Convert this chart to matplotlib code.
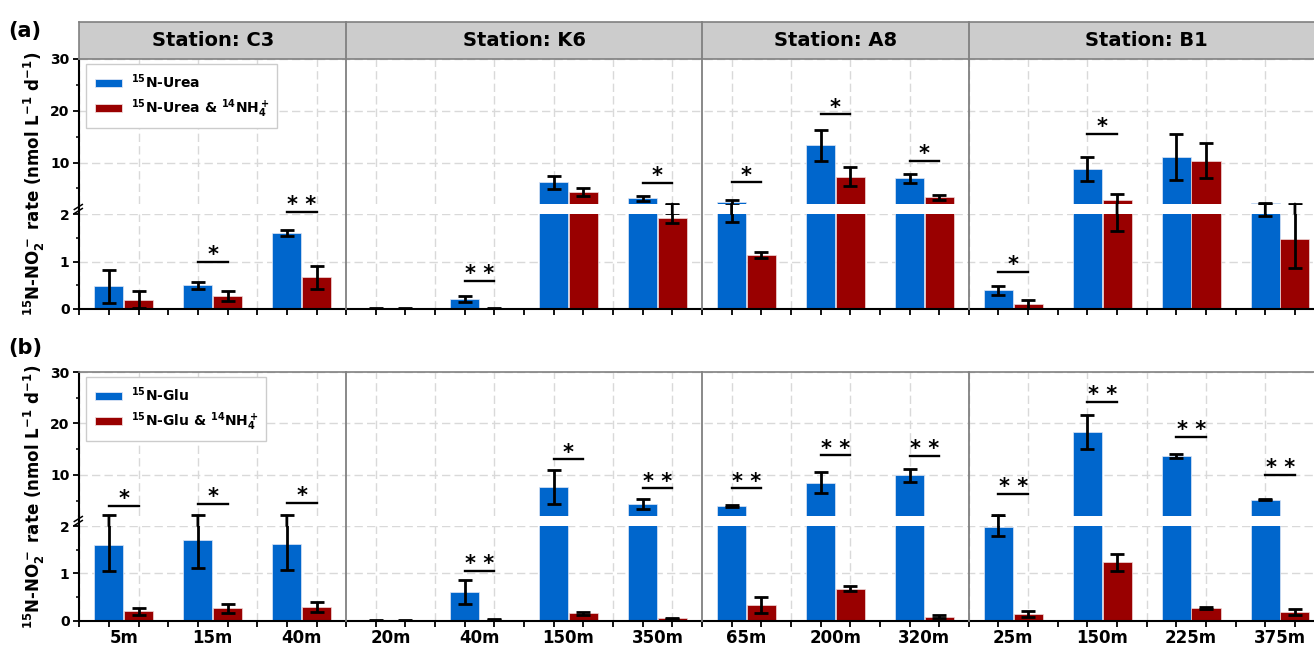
import numpy as np
import matplotlib
matplotlib.use('Agg')
import matplotlib.pyplot as plt
from matplotlib.lines import Line2D
from matplotlib.patches import ConnectionPatch, Patch
from matplotlib.ticker import MultipleLocator
import matplotlib.transforms as mtransforms

plt.rcParams['font.family'] = ['DejaVu Sans']
plt.rcParams['font.weight'] = 'bold'
plt.rcParams['mathtext.fontset'] = 'dejavusans'
plt.rcParams['mathtext.default'] = 'bf'

# ---------------- data ----------------
stations = ['Station: C3', 'Station: K6', 'Station: A8', 'Station: B1']
station_sizes = [3, 4, 3, 4]
depths = ['5m', '15m', '40m', '20m', '40m', '150m', '350m',
          '65m', '200m', '320m', '25m', '150m', '225m', '375m']

# panel (a): urea
urea = [0.48, 0.50, 1.60, 0.01, 0.21, 6.2, 3.1, 2.3, 13.3, 7.0, 0.39, 8.7, 11.1, 2.1]
urea_err = [0.35, 0.07, 0.07, 0.01, 0.06, 1.3, 0.5, 0.46, 3.0, 0.85, 0.09, 2.3, 4.5, 0.15]
urea_nh4 = [0.20, 0.27, 0.67, 0.01, 0.02, 4.3, 1.92, 1.14, 7.3, 3.3, 0.10, 2.75, 10.4, 1.47]
urea_nh4_err = [0.18, 0.11, 0.24, 0.01, 0.01, 0.8, 0.1, 0.07, 1.8, 0.45, 0.09, 1.1, 3.3, 0.6]
sig_a = ['', '*', '**', '', '**', '', '*', '*', '*', '*', '*', '*', '', '']
sig_a_h = [np.nan, 1.0, 2.04, np.nan, 0.59, np.nan, 6.1, 6.2, 19.3, 10.3, 0.785, 15.5, np.nan, np.nan]

# panel (b): glutamate
glu = [1.60, 1.70, 1.63, 0.01, 0.60, 7.6, 4.3, 4.0, 8.5, 9.9, 1.98, 18.3, 13.6, 5.2]
glu_err = [0.55, 0.58, 0.55, 0.01, 0.25, 3.3, 1.0, 0.2, 2.1, 1.3, 0.2, 3.3, 0.4, 0.15]
glu_nh4 = [0.20, 0.26, 0.29, 0.01, 0.02, 0.16, 0.05, 0.33, 0.68, 0.08, 0.14, 1.23, 0.27, 0.18]
glu_nh4_err = [0.07, 0.10, 0.11, 0.01, 0.01, 0.03, 0.01, 0.17, 0.05, 0.03, 0.07, 0.18, 0.02, 0.07]
sig_b = ['*', '*', '*', '', '**', '*', '**', '**', '**', '**', '**', '**', '**', '**']
sig_b_h = [4.0, 4.3, 4.6, np.nan, 1.05, 13.0, 7.4, 7.4, 13.8, 13.7, 6.3, 24.2, 17.4, 10.0]

legend_a = [r'$^{15}$N-Urea', r'$^{15}$N-Urea & $^{14}$NH$_4^+$']
legend_b = [r'$^{15}$N-Glu', r'$^{15}$N-Glu & $^{14}$NH$_4^+$']
ylabel = r'$^{15}$N-NO$_2^-$ rate (nmol L$^{-1}$ d$^{-1}$)'

BLUE = '#0066cc'
RED = '#990000'
GRID = '#d9d9d9'
DIV = '#808080'
BREAK = 2.0

# ---------------- layout ----------------
W, H = 1314, 648
fig = plt.figure(figsize=(W / 100, H / 100), dpi=100)


def fx(px):
    return px / W


def fy(px):
    return 1 - px / H


X0 = 79.3
UNIT = 29.65
NU = 3 * len(depths)
AX_L = fx(X0)
AX_W = NU * UNIT / W


def add_ax(top, bottom):
    return fig.add_axes([AX_L, fy(bottom), AX_W, (bottom - top) / H])


ng = np.arange(len(depths))
xb = 3 * ng + 1
xr = 3 * ng + 2
bounds = np.cumsum([0] + station_sizes) * 3


def draw_panel(up_top, up_bot, lo_top, lo_bot, s1, e1, s2, e2, sig, sig_h, top_gray):
    ax_up = add_ax(up_top, up_bot)
    ax_lo = add_ax(lo_top, lo_bot)
    for ax in (ax_up, ax_lo):
        ax.bar(xb, s1, width=0.98, color=BLUE, edgecolor='#dfe6f5', linewidth=0.5, zorder=2)
        ax.bar(xr, s2, width=0.98, color=RED, edgecolor='#f0dada', linewidth=0.5, zorder=2)
        ax.errorbar(xb, s1, yerr=e1, fmt='none', ecolor='black', elinewidth=2.0,
                    capsize=4.7, capthick=2.0, zorder=4)
        ax.errorbar(xr, s2, yerr=e2, fmt='none', ecolor='black', elinewidth=2.0,
                    capsize=4.7, capthick=2.0, zorder=4)
        ax.set_xlim(0, NU)
        ax.xaxis.set_major_locator(MultipleLocator(2))
        ax.xaxis.set_minor_locator(MultipleLocator(1))
        ax.grid(True, which='major', color=GRID, linestyle=(0, (6, 3)), linewidth=1.0)
        ax.set_axisbelow(True)
        ax.spines['right'].set_visible(False)
        ax.spines['left'].set_linewidth(1.5)
        ax.tick_params(axis='y', which='major', length=4, width=1.3, labelsize=10, pad=3)
        ax.tick_params(axis='y', which='minor', length=2.5, width=1.1)
        ax.set_facecolor('none')

    ax_up.set_ylim(BREAK, 30)
    ax_up.yaxis.set_major_locator(MultipleLocator(10))
    ax_up.yaxis.set_minor_locator(MultipleLocator(5))
    ax_up.spines['bottom'].set_visible(False)
    if top_gray:
        ax_up.spines['top'].set_color(DIV)
        ax_up.spines['top'].set_linewidth(1.2)
    else:
        ax_up.spines['top'].set_visible(False)
    ax_up.tick_params(axis='x', which='both', length=0, labelbottom=False)

    ax_lo.set_ylim(0, BREAK)
    ax_lo.yaxis.set_major_locator(MultipleLocator(1))
    ax_lo.yaxis.set_minor_locator(MultipleLocator(0.5))
    ax_lo.spines['top'].set_visible(False)
    ax_lo.spines['bottom'].set_linewidth(1.5)
    ax_lo.tick_params(axis='x', which='both', length=4, width=1.3, labelbottom=False, direction='out')

    # error bars crossing the axis break
    for xs, vals, errs in ((xb, s1, e1), (xr, s2, e2)):
        for x, v, e in zip(xs, vals, errs):
            if v - e < BREAK < v + e:
                cp = ConnectionPatch(xyA=(x, BREAK), coordsA=ax_lo.transData,
                                     xyB=(x, BREAK), coordsB=ax_up.transData,
                                     color='black', lw=2.0, zorder=5)
                fig.add_artist(cp)

    # left spine across the gap and break mark
    fig.add_artist(Line2D([AX_L, AX_L], [fy(up_bot), fy(lo_top)], color='black', lw=1.5))
    gy = (up_bot + lo_top) / 2
    for d in (-2.0, 2.0):
        fig.add_artist(Line2D([fx(X0 - 5), fx(X0 + 3)], [fy(gy + d + 2.5), fy(gy + d - 2.5)],
                              color='black', lw=1.1))

    # significance marks
    for g, (lab, h) in enumerate(zip(sig, sig_h)):
        if not lab:
            continue
        ax = ax_up if h > 2.1 else ax_lo
        ax.plot([xb[g], xr[g]], [h, h], color='black', lw=1.7, clip_on=False, zorder=5)
        ax.annotate(' '.join(lab), xy=((xb[g] + xr[g]) / 2, h), xytext=(0, 0.5),
                    textcoords='offset points', ha='center', va='baseline',
                    fontsize=15, fontweight='bold', annotation_clip=False, zorder=5)

    return ax_up, ax_lo


def dividers(ax, top_px, bot_px):
    tr = mtransforms.blended_transform_factory(ax.transData, fig.transFigure)
    for b in bounds[1:-1]:
        fig.add_artist(Line2D([b, b], [fy(top_px), fy(bot_px)], transform=tr,
                              color=DIV, lw=1.3, zorder=1))


# panel (a)
HEAD_T, HEAD_B = 21.7, 59
a_up, a_lo = draw_panel(59, 204, 214, 309, urea, urea_err, urea_nh4, urea_nh4_err,
                        sig_a, sig_a_h, False)
dividers(a_lo, HEAD_T, 309)

# header strip
ax_h = fig.add_axes([AX_L, fy(HEAD_B), AX_W, (HEAD_B - HEAD_T) / H])
ax_h.set_facecolor('#cccccc')
ax_h.set_xlim(0, NU)
ax_h.set_ylim(0, 1)
ax_h.set_xticks([])
ax_h.set_yticks([])
for sp in ax_h.spines.values():
    sp.set_color(DIV)
    sp.set_linewidth(1.2)
for name, lo, hi in zip(stations, bounds[:-1], bounds[1:]):
    ax_h.text((lo + hi) / 2, 0.5, name, ha='center', va='center', fontsize=14, fontweight='bold')

# panel (b)
b_up, b_lo = draw_panel(372, 516, 526, 620.7, glu, glu_err, glu_nh4, glu_nh4_err,
                        sig_b, sig_b_h, True)
dividers(b_lo, 372, 620.7)

for g, d in enumerate(depths):
    b_lo.annotate(d, xy=((xb[g] + xr[g]) / 2, 0), xytext=(0, -16.0), textcoords='offset points',
                  ha='center', va='baseline', fontsize=12, fontweight='bold', annotation_clip=False)

# legends
for ax, labels in ((a_up, legend_a), (b_up, legend_b)):
    handles = [Patch(facecolor=BLUE, edgecolor='#dfe6f5', linewidth=0.6),
               Patch(facecolor=RED, edgecolor='#f0dada', linewidth=0.6)]
    leg = ax.legend(handles, labels, loc='upper left', bbox_to_anchor=(0.0056, 0.966),
                    borderaxespad=0, fontsize=10, frameon=True, fancybox=False,
                    edgecolor='#cccccc', framealpha=1, handlelength=2.0, handleheight=0.55,
                    labelspacing=0.45, borderpad=0.6, handletextpad=0.6)
    leg.get_frame().set_linewidth(1.0)
    leg.set_zorder(6)

# y labels and panel labels
fig.text(fx(34), fy((59 + 309) / 2), ylabel, rotation=90, ha='center', va='center', fontsize=12)
fig.text(fx(34), fy((372 + 620.7) / 2), ylabel, rotation=90, ha='center', va='center', fontsize=12)
fig.text(fx(8), fy(31), '(a)', fontsize=15, fontweight='bold', va='center')
fig.text(fx(8), fy(348), '(b)', fontsize=15, fontweight='bold', va='center')

fig.savefig('out.png', dpi=100)
